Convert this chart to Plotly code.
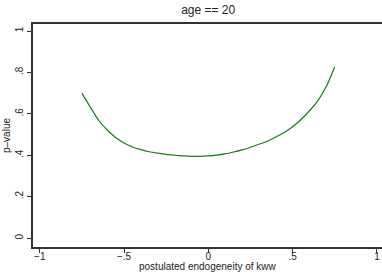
import plotly.graph_objects as go

endog = [-0.75, -0.70, -0.65, -0.60, -0.55, -0.50, -0.45, -0.40, -0.35, -0.30, -0.25, -0.20, -0.15, -0.10, -0.05,
         0.00, 0.05, 0.10, 0.15, 0.20, 0.25, 0.30, 0.35, 0.40, 0.45, 0.50, 0.55, 0.60, 0.65, 0.70, 0.75]
pvalue = [0.700, 0.632, 0.568, 0.522, 0.486, 0.459, 0.440, 0.427, 0.417, 0.410, 0.404, 0.400, 0.397, 0.395, 0.395,
          0.397, 0.401, 0.407, 0.416, 0.426, 0.439, 0.453, 0.468, 0.488, 0.510, 0.538, 0.573, 0.615, 0.664, 0.733, 0.828]

x_ticks = [-1, -0.5, 0, 0.5, 1]
x_ticklabels = ["\u22121", "\u2212.5", "0", ".5", "1"]
y_ticks = [0, 0.2, 0.4, 0.6, 0.8, 1]
y_ticklabels = ["0", ".2", ".4", ".6", ".8", "1"]
x_title = "postulated endogeneity of kww"
y_title = "p\u2013value"

fig = go.Figure()
fig.add_trace(go.Scatter(x=endog, y=pvalue, mode="lines",
                         line=dict(color="#1a7a1a", width=1.2, shape="spline", smoothing=0.6),
                         showlegend=False, hoverinfo="skip"))

font = "Liberation Sans, Arial, Helvetica, sans-serif"
fig.update_layout(
    width=382, height=273,
    margin=dict(l=33, r=0, t=24, b=26),
    paper_bgcolor="white", plot_bgcolor="white",
    title=dict(text="age == 20", x=0.545, xanchor="center", y=0.965, yanchor="middle",
               font=dict(family=font, size=12, color="#222")),
    font=dict(family=font, color="#222"),
    xaxis=dict(range=[-1.04, 1.03], tickvals=x_ticks, ticktext=x_ticklabels, showgrid=False, zeroline=False,
               showline=True, linecolor="#333", linewidth=1.5, mirror=True,
               ticks="outside", ticklen=4, tickcolor="#333", tickfont=dict(size=10),
               ticklabelstandoff=-5),
    yaxis=dict(range=[-0.043, 1.034], tickvals=y_ticks, ticktext=y_ticklabels, showgrid=False, zeroline=False,
               showline=True, linecolor="#333", linewidth=1.5, mirror=False,
               ticks="outside", ticklen=4, tickcolor="#333", tickfont=dict(size=10), tickangle=-90,
               title=dict(text=y_title, font=dict(size=10), standoff=2)),
    annotations=[dict(text=x_title, xref="paper", yref="paper", x=0.5, y=-0.089, xanchor="center",
                      yanchor="middle", showarrow=False, font=dict(family=font, size=10, color="#222"))],
)
fig.write_html("out.html", config={"displayModeBar": False},
               post_script="document.body.style.margin='0';document.body.style.padding='0';")
